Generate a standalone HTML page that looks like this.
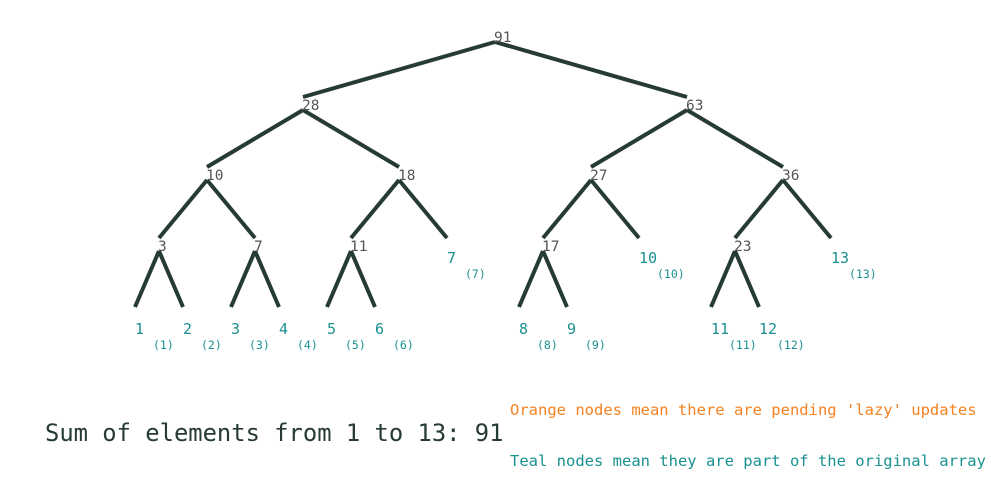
<!DOCTYPE html>
<html><head><meta charset="utf-8">
<style>
body{margin:0;background:#fff;}
svg{display:block;font-family:"DejaVu Sans Mono","Liberation Mono",monospace;}
</style></head>
<body>
<svg id="chart" width="991" height="479" viewBox="0 0 991 479" xmlns="http://www.w3.org/2000/svg">
<g id="edges"></g>
<g id="nodes"></g>
<text x="45" y="441" font-size="23.8" fill="#263a36">Sum of elements from 1 to 13: 91</text>
<text x="510" y="415" font-size="15.5" fill="#f5811f">Orange nodes mean there are pending 'lazy' updates</text>
<text x="510" y="466" font-size="15.5" fill="#1a9090">Teal nodes mean they are part of the original array</text>
</svg>
<script>
const nodeIds   = [0,1,2,3,4,5,6,7,8,9,10,11,12,13,14,15,16,17,18,19,20,21,22,23,24];
const nodeVals  = [91,28,63,10,18,27,36,3,7,11,7,17,10,23,13,1,2,3,4,5,6,8,9,11,12];
const parents   = [-1,0,0,1,1,2,2,3,3,4,4,5,5,6,6,7,7,8,8,9,9,11,11,13,13];
const nodeX     = [495,303,687,207,399,591,783,159,255,351,447,543,639,735,831,135,183,231,279,327,375,519,567,711,759];
const levels    = [0,1,1,2,2,2,2,3,3,3,3,3,3,3,3,4,4,4,4,4,4,4,4,4,4];
const leafIndex = [0,0,0,0,0,0,0,0,0,0,7,0,10,0,13,1,2,3,4,5,6,8,9,11,12];
const levelY = [42,97,167,238,307];
const outGap = 13;
const NS="http://www.w3.org/2000/svg";
const eg=document.getElementById('edges'), ng=document.getElementById('nodes');
for(let i=0;i<nodeIds.length;i++){
  const p=parents[i];
  if(p>=0){
    const l=document.createElementNS(NS,'line');
    
    
    l.setAttribute('x1',nodeX[p]);l.setAttribute('y1',levelY[levels[p]]+(levels[p]?outGap:0));
    l.setAttribute('x2',nodeX[i]);l.setAttribute('y2',levelY[levels[i]]);
    l.setAttribute('stroke','#263a36');l.setAttribute('stroke-width','4');
    eg.appendChild(l);
  }
  const isLeaf=leafIndex[i]>0;
  const y=levelY[levels[i]];
  const t=document.createElementNS(NS,'text');
  
  
  if(isLeaf){
    const dy = levels[i]===4?27:25;
    t.setAttribute('x',nodeX[i]);t.setAttribute('y',y+dy);
    t.setAttribute('font-size','15');
    t.setAttribute('fill','#1a9090');
    t.textContent=nodeVals[i];
    ng.appendChild(t);
    const s=document.createElementNS(NS,'text');
    
    
    s.setAttribute('x',nodeX[i]+18);s.setAttribute('y',y+dy+15);
    s.setAttribute('font-size','11.5');s.setAttribute('fill','#1a9090');
    s.textContent='('+leafIndex[i]+')';
    ng.appendChild(s);
  } else {
    t.setAttribute('x',nodeX[i]-1);
    t.setAttribute('y',levels[i]?y+13:y);
    t.setAttribute('font-size','14.5');
    t.setAttribute('fill','#555');
    t.textContent=nodeVals[i];
    ng.appendChild(t);
  }
}
</script>
</body></html>
